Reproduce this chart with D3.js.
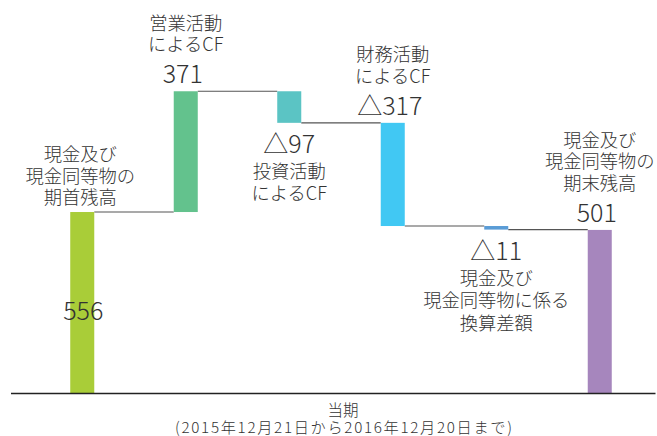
<!DOCTYPE html>
<html>
<head>
<meta charset="utf-8">
<script src="https://cdn.jsdelivr.net/npm/d3@7"></script>
<style>
  html, body { margin: 0; padding: 0; background: #ffffff; }
  svg { display: block; }
  text { font-family: "Noto Sans CJK JP", "Noto Sans", sans-serif; fill: #333333; font-weight: 300; }
</style>
</head>
<body>
<div id="chart"></div>
<script>
// ---- data ----
const categories = ["期首残高", "営業活動によるCF", "投資活動によるCF", "財務活動によるCF", "換算差額", "期末残高"];
const values = [556, 371, -97, -317, -11, 501];
const kinds = ["total", "delta", "delta", "delta", "delta", "total"];
const valueLabels = ["556", "371", "△97", "△317", "△11", "501"];
const nameLines = [
  ["現金及び", "現金同等物の", "期首残高"],
  ["営業活動", "によるCF"],
  ["投資活動", "によるCF"],
  ["財務活動", "によるCF"],
  ["現金及び", "現金同等物に係る", "換算差額"],
  ["現金及び", "現金同等物の", "期末残高"]
];
const colors = ["#a9cd38", "#63c28d", "#5bc4c4", "#41c8f3", "#5a9cd6", "#a686bd"];
const axisTitle = ["当期", "(2015年12月21日から2016年12月20日まで)"];

// ---- layout ----
const W = 657, H = 436;
const svg = d3.select("#chart").append("svg").attr("width", W).attr("height", H);

const x = d3.scaleBand().domain(categories).range([30.5, 651.5]).paddingInner(0.768).paddingOuter(0.384);
const y = d3.scaleLinear().domain([0, 1000]).range([393, 67.5]);

// compute waterfall segments
let running = 0;
const segs = categories.map((c, i) => {
  let from, to;
  if (kinds[i] === "total") { from = 0; to = values[i]; running = values[i]; }
  else { from = running; to = running + values[i]; running = to; }
  return { c, i, from, to };
});

// connectors
const g = svg.append("g");
segs.forEach((s, i) => {
  if (i === segs.length - 1) return;
  const level = s.to;
  g.append("line")
    .attr("x1", x(s.c) + x.bandwidth())
    .attr("x2", x(segs[i + 1].c))
    .attr("y1", y(level)).attr("y2", y(level))
    .attr("stroke", "#555").attr("stroke-width", 1.2);
});

// bars
g.selectAll("rect.bar").data(segs).enter().append("rect")
  .attr("class", "bar")
  .attr("x", d => x(d.c))
  .attr("width", x.bandwidth())
  .attr("y", d => y(Math.max(d.from, d.to)))
  .attr("height", d => Math.abs(y(d.from) - y(d.to)))
  .attr("fill", (d, i) => colors[i]);

// baseline axis
svg.append("line").attr("x1", 11).attr("x2", 655.5).attr("y1", 393.5).attr("y2", 393.5)
  .attr("stroke", "#222").attr("stroke-width", 1.6);

// labels
const nameSize = 18.3, numSize = 25, lh = 21.5;
function txt(t, cx, cy, size) {
  return svg.append("text").attr("x", cx).attr("y", cy)
    .attr("text-anchor", "middle").attr("dominant-baseline", "central")
    .style("font-size", size + "px").text(t);
}
segs.forEach((s, i) => {
  const cx = x(s.c) + x.bandwidth() / 2;
  const top = y(Math.max(s.from, s.to));
  const bottom = y(Math.min(s.from, s.to));
  const lines = nameLines[i];
  if (i === 0) {
    lines.forEach((l, k) => txt(l, cx - 2, top - 16 - (lines.length - 1 - k) * lh, nameSize));
    txt(valueLabels[i], cx + 1, (top + 393) / 2 + 6, numSize);
  } else if (kinds[i] === "total" || values[i] >= 0 || i === 3) {
    const ny = top - 19;
    txt(valueLabels[i], cx - 3, ny, numSize);
    lines.forEach((l, k) => txt(l, cx, ny - 29 - (lines.length - 1 - k) * lh, nameSize));
  } else {
    const ny = bottom + 19;
    txt(valueLabels[i], cx, ny, numSize);
    lines.forEach((l, k) => txt(l, cx, ny + 28 + k * 22.5, nameSize));
  }
});

// axis title
txt(axisTitle[0], 343, 408.5, 15.5);
txt(axisTitle[1], 343.5, 425.5, 15.2).attr("textLength", 337).attr("lengthAdjust", "spacing");
</script>
</body>
</html>
